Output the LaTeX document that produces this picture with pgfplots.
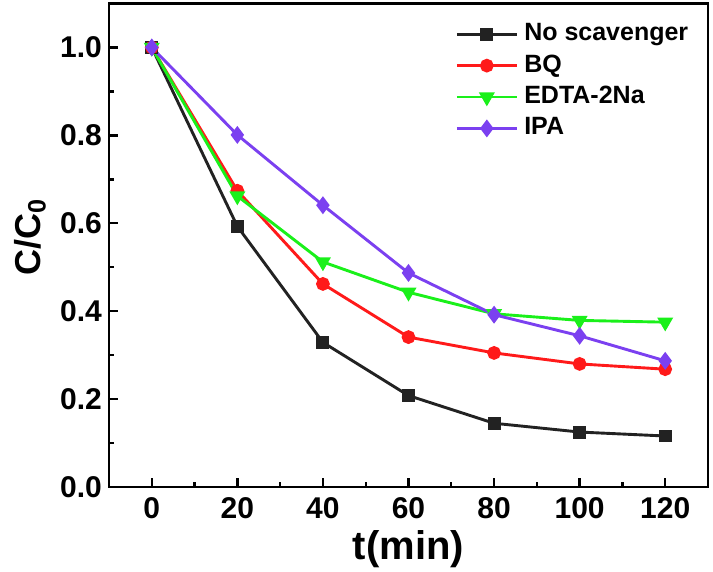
\documentclass[border=0pt]{standalone}
\usepackage{fontspec}
\setmainfont{Liberation Sans}
\usepackage{pgfplots}
\pgfplotsset{compat=1.18}
\definecolor{cblack}{HTML}{222222}
\definecolor{cred}{HTML}{FF1A1A}
\definecolor{cgreen}{HTML}{1AF01A}
\definecolor{cpurple}{HTML}{7B40F0}
\begin{document}
\begin{tikzpicture}
\begin{axis}[
  scale only axis,
  width=299.5pt, height=241.75pt,
  xmin=-10, xmax=130, ymin=0, ymax=1.1,
  xtick={0,20,...,120}, ytick={0,0.2,...,1.0},
  minor x tick num=1, minor y tick num=1,
  xtick pos=bottom, ytick pos=left,
  tick align=inside,
  major tick length=4.5pt, minor tick length=2.5pt,
  every tick/.style={line width=1.2pt, black},
  axis line style={line width=1.3pt},
  /pgf/number format/assume math mode=true,
  yticklabel style={/pgf/number format/fixed, /pgf/number format/fixed zerofill, /pgf/number format/precision=1},
  ticklabel style={font=\fontsize{15}{18}\selectfont\bfseries},
  xticklabel style={yshift=-1.8pt},
  xlabel={t(min)},
  ylabel={C/C\textsubscript{0}},
  xlabel style={font=\fontsize{20}{24}\selectfont\bfseries, at={(axis description cs:0.5,-0.128)}, anchor=center},
  ylabel style={font=\fontsize{18}{22}\selectfont\bfseries, at={(axis description cs:-0.132,0.518)}, anchor=center},
  legend style={draw=none, fill=none, at={(axis description cs:0.5676,0.978)}, anchor=north west,
    font=\fontsize{12.5}{15}\selectfont\bfseries,
    nodes={text height=9pt, text depth=2.5pt, inner ysep=2.1pt, inner xsep=3pt},
    row sep=0pt},
  legend cell align=left,
  legend image code/.code={\draw[mark repeat=2,mark phase=2] plot coordinates {(0pt,0pt) (15pt,0pt) (30pt,0pt)};},
  every axis plot/.append style={line width=1.45pt},
]
\addplot[cblack, mark=square*, mark size=2.5pt, mark options={solid}] coordinates {
(0,1.0) (20,0.593) (40,0.329) (60,0.208) (80,0.145) (100,0.125) (120,0.116)};
\addlegendentry{No scavenger}
\addplot[cred, mark=*, mark size=2.7pt] coordinates {
(0,1.0) (20,0.674) (40,0.462) (60,0.341) (80,0.305) (100,0.280) (120,0.268)};
\addlegendentry{BQ}
\addplot[cgreen, mark=triangle*, mark size=3.2pt, mark options={rotate=180}] coordinates {
(0,1.0) (20,0.662) (40,0.512) (60,0.443) (80,0.394) (100,0.379) (120,0.375)};
\addlegendentry{EDTA-2Na}
\addplot[cpurple, mark=diamond*, mark size=3.3pt] coordinates {
(0,1.0) (20,0.801) (40,0.641) (60,0.487) (80,0.392) (100,0.344) (120,0.287)};
\addlegendentry{IPA}
\end{axis}
\pgfresetboundingbox
\path[use as bounding box] ([xshift=-54.5pt,yshift=-42.5pt]current axis.south west) rectangle ([xshift=2.5pt,yshift=1.75pt]current axis.north east);
\end{tikzpicture}
\end{document}
